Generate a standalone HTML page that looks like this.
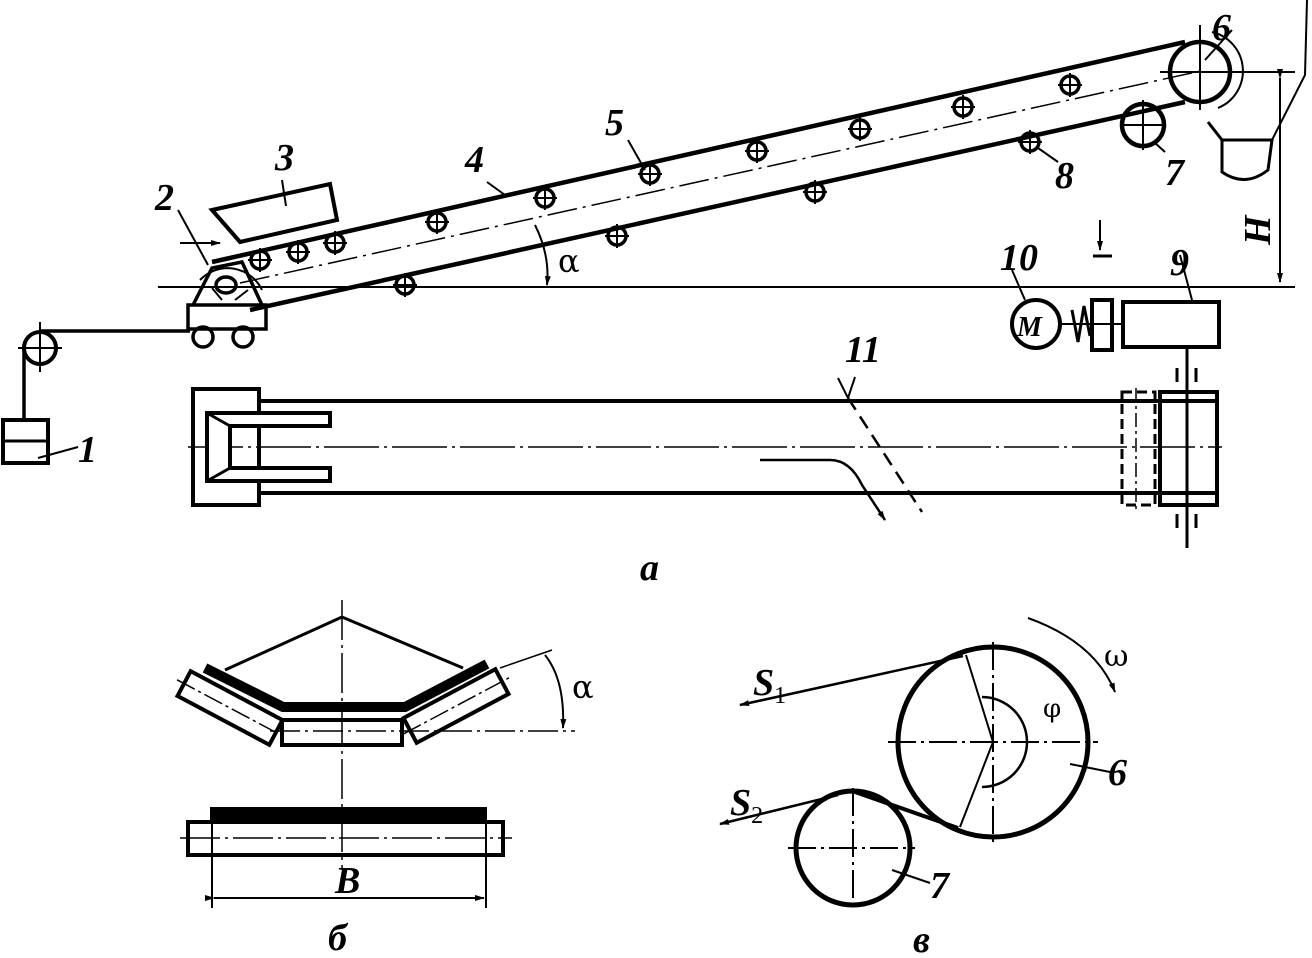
<!DOCTYPE html>
<html><head><meta charset="utf-8"><style>
html,body{margin:0;padding:0;background:#fff;}
svg{display:block;}
text{font-family:"Liberation Serif",serif;font-style:italic;fill:#000;}
</style></head><body>
<svg width="1312" height="958" viewBox="0 0 1312 958" xmlns="http://www.w3.org/2000/svg">
<defs>
<marker id="ar" markerWidth="10" markerHeight="8" refX="9" refY="4" orient="auto" markerUnits="userSpaceOnUse">
<path d="M0,1 L10,4 L0,7 Z" fill="#000"/></marker>
<g id="idl"><circle r="9" fill="none" stroke="#000" stroke-width="3.5"/><line x1="-12" y1="0" x2="12" y2="0" stroke="#000" stroke-width="2"/><line x1="0" y1="-12" x2="0" y2="12" stroke="#000" stroke-width="2"/></g>
</defs>
<g stroke="#000" fill="none" stroke-width="3">
<line x1="158" y1="287" x2="1295" y2="287" stroke-width="2"/>
<line x1="212" y1="262" x2="1185" y2="42" stroke-width="4.5"/>
<line x1="250" y1="310" x2="1185" y2="102" stroke-width="4.5"/>
<line x1="240" y1="283" x2="1205" y2="70" stroke-width="1.5" stroke-dasharray="30,6,3,6"/>
<circle cx="1200" cy="72" r="30" stroke-width="4.5"/>
<line x1="1160" y1="72" x2="1295" y2="72" stroke-width="2"/>
<line x1="1200" y1="25" x2="1200" y2="110" stroke-width="2"/>
<path d="M1212,32 A40,40 0 0 1 1218,108" stroke-width="2"/>
<line x1="1205" y1="60" x2="1232" y2="30" stroke-width="2"/>
<circle cx="1143" cy="125" r="21" stroke-width="4.5"/>
<line x1="1120" y1="125" x2="1166" y2="125" stroke-width="2"/>
<line x1="1143" y1="100" x2="1143" y2="150" stroke-width="2"/>
<line x1="1155" y1="143" x2="1165" y2="152" stroke-width="2"/>
<path d="M1208,122 L1222,140 L1222,172 Q1245,188 1268,170 L1272,140 L1222,140" stroke-width="3"/>
<path d="M1272,140 L1305,75 L1307,0" stroke-width="2"/>
<line x1="1280" y1="78" x2="1280" y2="282" stroke-width="2" marker-start="url(#ar)" marker-end="url(#ar)"/>
<path d="M212,210 L330,184 L337,220 L240,242 Z" stroke-width="4"/>
<line x1="282" y1="180" x2="286" y2="206" stroke-width="2"/>
<line x1="180" y1="243" x2="220" y2="243" stroke-width="2" marker-end="url(#ar)"/>
<path d="M200,280 A38,38 0 0 1 262,290" stroke-width="2"/>
<path d="M193,305 L212,268 L242,262 L262,305" stroke-width="3.5"/>
<ellipse cx="226" cy="285" rx="10" ry="8" stroke-width="3.5"/>
<path d="M212,288 L222,300 M235,300 L248,290" stroke-width="2"/>
<rect x="188" y="305" width="78" height="24" stroke-width="3.5"/>
<circle cx="203" cy="337" r="10" stroke-width="3.5"/>
<circle cx="243" cy="337" r="10" stroke-width="3.5"/>
<line x1="178" y1="210" x2="208" y2="265" stroke-width="2"/>
<line x1="40" y1="331" x2="190" y2="331" stroke-width="3.5"/>
<circle cx="40" cy="348" r="16" stroke-width="4"/>
<line x1="18" y1="348" x2="62" y2="348" stroke-width="2"/>
<line x1="40" y1="322" x2="40" y2="372" stroke-width="2"/>
<line x1="24" y1="348" x2="24" y2="420" stroke-width="3.5"/>
<rect x="3" y="420" width="45" height="43" stroke-width="4"/>
<line x1="3" y1="441" x2="48" y2="441" stroke-width="3"/>
<line x1="38" y1="458" x2="78" y2="447" stroke-width="2"/>
<line x1="487" y1="182" x2="505" y2="195" stroke-width="2"/>
<line x1="628" y1="140" x2="645" y2="170" stroke-width="2"/>
<line x1="1038" y1="148" x2="1058" y2="162" stroke-width="2"/>
<path d="M535,225 Q550,255 547,285" stroke-width="2" marker-end="url(#ar)"/>
<circle cx="1036" cy="324" r="24" stroke-width="4"/>
<line x1="1012" y1="270" x2="1025" y2="300" stroke-width="2"/>
<line x1="1060" y1="324" x2="1122" y2="324" stroke-width="2"/>
<path d="M1072,310 L1078,342 L1084,306 L1090,336" stroke-width="3"/>
<rect x="1092" y="300" width="20" height="50" stroke-width="4"/>
<line x1="1100" y1="220" x2="1100" y2="250" stroke-width="2" marker-end="url(#ar)"/>
<line x1="1093" y1="256" x2="1112" y2="256" stroke-width="3"/>
<rect x="1123" y="302" width="96" height="45" stroke-width="4"/>
<line x1="1180" y1="255" x2="1192" y2="300" stroke-width="2"/>
<line x1="1187" y1="347" x2="1187" y2="548" stroke-width="3"/>
<line x1="258" y1="401" x2="1215" y2="401" stroke-width="4"/>
<line x1="258" y1="493" x2="1215" y2="493" stroke-width="4"/>
<line x1="188" y1="447" x2="1222" y2="447" stroke-width="1.5" stroke-dasharray="55,5,3,5"/>
<rect x="193" y="389" width="66" height="116" stroke-width="4"/>
<path d="M330,413 L207,413 L207,481 L330,481 L330,468 L230,468 L230,426 L330,426 Z" stroke-width="4" fill="#fff"/>
<path d="M207,413 L230,426 M207,481 L230,468" stroke-width="3"/>
<rect x="1122" y="392" width="33" height="113" stroke-width="3" stroke-dasharray="10,5"/>
<rect x="1160" y="392" width="57" height="113" stroke-width="4"/>
<line x1="1160" y1="395" x2="1160" y2="502" stroke-width="3" stroke-dasharray="10,5"/>
<line x1="1136" y1="388" x2="1136" y2="512" stroke-width="1.5" stroke-dasharray="14,4,3,4"/>
<line x1="1177" y1="368" x2="1177" y2="382" stroke-width="3"/>
<line x1="1196" y1="368" x2="1196" y2="382" stroke-width="3"/>
<line x1="1177" y1="514" x2="1177" y2="528" stroke-width="3"/>
<line x1="1196" y1="514" x2="1196" y2="528" stroke-width="3"/>
<path d="M838,378 L848,398 M855,377 L848,398" stroke-width="2"/>
<line x1="848" y1="398" x2="922" y2="512" stroke-width="2.5" stroke-dasharray="14,8"/>
<path d="M760,460 L830,460 Q850,460 862,485 L885,520" stroke-width="2.5" marker-end="url(#ar)"/>
<line x1="342" y1="600" x2="342" y2="868" stroke-width="1.5" stroke-dasharray="40,5,3,5"/>
<path d="M225,670 L342,617 L463,668" stroke-width="3"/>
<g transform="translate(230,708) rotate(28)"><rect x="-52" y="-14" width="104" height="28" stroke-width="4" fill="#fff"/><line x1="-60" y1="0" x2="60" y2="0" stroke-width="1.5" stroke-dasharray="20,4,3,4"/></g>
<g transform="translate(456,706) rotate(-28)"><rect x="-52" y="-14" width="104" height="28" stroke-width="4" fill="#fff"/><line x1="-60" y1="0" x2="60" y2="0" stroke-width="1.5" stroke-dasharray="20,4,3,4"/></g>
<rect x="282" y="720" width="120" height="25" stroke-width="4"/>
<path d="M205,668 L283,707 L405,707 L487,664" stroke-width="10"/>
<line x1="270" y1="731" x2="575" y2="731" stroke-width="1.5" stroke-dasharray="30,5,3,5"/>
<line x1="500" y1="668" x2="552" y2="650" stroke-width="1.5"/>
<path d="M545,655 Q565,680 563,728" stroke-width="2" marker-end="url(#ar)"/>
<rect x="210" y="807" width="277" height="14" fill="#000" stroke="none"/>
<rect x="188" y="822" width="315" height="33" stroke-width="4"/>
<line x1="180" y1="838" x2="512" y2="838" stroke-width="1.5" stroke-dasharray="40,5,3,5"/>
<line x1="212" y1="808" x2="212" y2="908" stroke-width="2"/>
<line x1="486" y1="808" x2="486" y2="908" stroke-width="2"/>
<line x1="214" y1="898" x2="484" y2="898" stroke-width="2" marker-start="url(#ar)" marker-end="url(#ar)"/>
<circle cx="993" cy="742" r="95" stroke-width="5"/>
<circle cx="853" cy="848" r="57" stroke-width="5"/>
<line x1="888" y1="742" x2="1098" y2="742" stroke-width="2" stroke-dasharray="28,5,3,5"/>
<line x1="993" y1="642" x2="993" y2="842" stroke-width="2" stroke-dasharray="28,5,3,5"/>
<line x1="788" y1="848" x2="915" y2="848" stroke-width="2" stroke-dasharray="28,5,3,5"/>
<line x1="853" y1="788" x2="853" y2="910" stroke-width="2" stroke-dasharray="28,5,3,5"/>
<line x1="963" y1="656" x2="740" y2="705" stroke-width="2.5" marker-end="url(#ar)"/>
<line x1="838" y1="795" x2="720" y2="824" stroke-width="2.5" marker-end="url(#ar)"/>
<line x1="855" y1="792" x2="958" y2="828" stroke-width="4"/>
<path d="M966,655 L993,742 L960,827" stroke-width="2"/>
<path d="M982,697 A45,45 0 0 1 982,787" stroke-width="2.5"/>
<path d="M1028,618 Q1095,642 1115,692" stroke-width="2" marker-end="url(#ar)"/>
<line x1="1070" y1="764" x2="1110" y2="772" stroke-width="2"/>
<line x1="892" y1="870" x2="930" y2="883" stroke-width="2"/>
</g>
<use href="#idl" x="260" y="260"/><use href="#idl" x="298" y="252"/><use href="#idl" x="335" y="243"/>
<use href="#idl" x="437" y="222"/><use href="#idl" x="545" y="198"/><use href="#idl" x="650" y="174"/>
<use href="#idl" x="757" y="151"/><use href="#idl" x="860" y="129"/><use href="#idl" x="963" y="107"/>
<use href="#idl" x="1070" y="85"/>
<use href="#idl" x="405" y="285"/><use href="#idl" x="617" y="236"/><use href="#idl" x="815" y="192"/><use href="#idl" x="1030" y="142"/>
<g font-size="38" font-weight="bold">
<text x="78" y="462">1</text>
<text x="155" y="210">2</text>
<text x="275" y="170">3</text>
<text x="465" y="172">4</text>
<text x="605" y="135">5</text>
<text x="1212" y="40">6</text>
<text x="1165" y="185">7</text>
<text x="1055" y="188">8</text>
<text x="1170" y="275">9</text>
<text x="1000" y="270">10</text>
<text x="845" y="362">11</text>
<text x="1108" y="785">6</text>
<text x="930" y="898">7</text>
<text x="640" y="580">a</text>
<text x="328" y="950">б</text>
<text x="913" y="952">в</text>
<text x="335" y="893">B</text>
<text x="1270" y="245" transform="rotate(-90 1270 245)">H</text>
<text x="753" y="695">S<tspan font-size="24" dy="8" font-style="normal" font-weight="normal">1</tspan></text>
<text x="730" y="815">S<tspan font-size="24" dy="8" font-style="normal" font-weight="normal">2</tspan></text>
</g>
<g font-size="32">
<text x="558" y="272" style="font-style:normal;font-family:'DejaVu Serif',serif">α</text>
<text x="572" y="698" style="font-style:normal;font-family:'DejaVu Serif',serif">α</text>
<text x="1104" y="666" style="font-style:normal;font-family:'DejaVu Serif',serif" font-size="30">ω</text>
<text x="1043" y="717" style="font-style:normal;font-family:'DejaVu Serif',serif" font-size="26">φ</text>
<text x="1017" y="336" style="font-style:italic;font-weight:bold" font-size="28">M</text>
</g>
</svg>
</body></html>
